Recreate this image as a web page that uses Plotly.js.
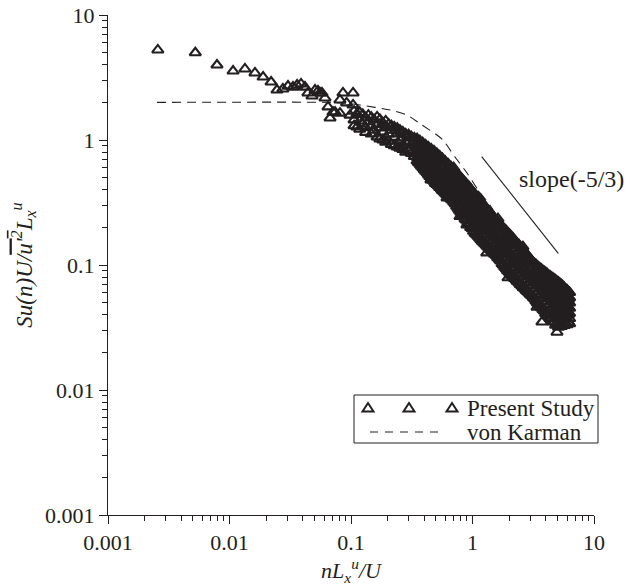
<!DOCTYPE html>
<html><head><meta charset="utf-8">
<script src="https://cdn.plot.ly/plotly-3.0.1.min.js"></script>
<style>html,body{margin:0;padding:0;background:#fff}</style>
</head><body>
<div id="chart" style="width:637px;height:586px"></div>
<script>
// Present Study: sparse low-frequency points
const lowX = [0.00257,0.00523,0.00789,0.0107,0.0134,0.0162,0.0189,0.0220,0.0246,0.0275,0.0303,0.0333,0.0360,0.0388,0.0418,0.0442,0.0478,0.0506,0.0535,0.0555,0.0577,0.0611,0.0647,0.0672,0.0711,0.0739,0.0811,0.0811,0.0859,0.0920,0.0982,0.1040,0.1040];
const lowY = [5.25,4.99,3.98,3.56,3.70,3.44,3.19,2.91,2.51,2.56,2.70,2.65,2.75,2.81,2.65,2.38,2.25,2.51,2.47,2.38,2.38,2.17,1.84,1.50,1.67,1.67,1.64,2.09,2.38,1.98,1.58,2.38,1.91];
// Present Study: band of points, x and the y values read at that x
const bandX = [0.106,0.112,0.118,0.125,0.132,0.139,0.147,0.155,0.164,0.173,0.183,0.193,0.204,0.215,0.227,0.240,0.253,0.267,0.282,0.298,0.314,0.332,
0.350,0.369,0.389,0.411,0.433,0.457,0.482,0.509,0.537,0.566,0.597,0.630,0.665,0.701,0.740,0.780,0.823,0.868,0.916,0.966,
1.02,1.08,1.14,1.20,1.26,1.33,1.41,1.48,1.57,1.65,1.75,1.84,1.94,2.05,2.16,2.28,2.41,2.54,2.68,2.83,2.98,3.15,3.32,3.50,3.70,3.90,4.11,4.34,4.58,4.83,5.10,5.38,5.68,6.00,6.30];
const bandY = [
[1.70,1.45,1.30],[1.62,1.27],[1.66,1.42,1.22],[1.60,1.35],[1.50,1.26,1.15],[1.58,1.40],[1.52,1.30,1.12],[1.45,1.20],
[1.53,1.33,1.06],[1.46,1.25,1.02],[1.37,1.16,1.00],[1.42,1.28,0.96],[1.34,1.12,0.98],[1.30,1.20,0.92],[1.27,1.05,0.90],
[1.24,1.12,0.88],[1.20,1.00,0.86],[1.16,1.04,0.84],[1.12,0.96,0.80],[1.10,0.98,0.82],[1.06,0.92,0.78],[1.04,0.90,0.74],
[1.023,0.957,0.894,0.836,0.782,0.730,0.682],[0.986,0.918,0.855,0.794,0.740,0.689,0.641],[0.951,0.881,0.817,0.757,0.702,0.650,0.603],
[0.914,0.843,0.778,0.718,0.662,0.611,0.564],[0.881,0.809,0.745,0.684,0.628,0.578,0.531],[0.847,0.776,0.710,0.649,0.594,0.543,0.498],
[0.817,0.745,0.678,0.618,0.564,0.513,0.468],[0.782,0.710,0.646,0.586,0.532,0.484,0.440],[0.745,0.676,0.614,0.557,0.506,0.459,0.417],
[0.710,0.644,0.583,0.530,0.481,0.436,0.395],[0.675,0.612,0.555,0.504,0.456,0.414,0.375],[0.643,0.582,0.527,0.478,0.434,0.393,0.356],
[0.610,0.552,0.500,0.453,0.410,0.372,0.337],[0.581,0.526,0.475,0.431,0.390,0.352,0.319],[0.547,0.494,0.447,0.403,0.364,0.328,0.296],
[0.515,0.463,0.418,0.376,0.338,0.305,0.274],[0.485,0.436,0.391,0.351,0.315,0.283,0.254],[0.456,0.408,0.365,0.327,0.292,0.261,0.234],
[0.430,0.383,0.342,0.305,0.272,0.243,0.217],[0.405,0.360,0.320,0.284,0.254,0.225,0.200],
[0.379,0.337,0.299,0.265,0.236,0.209,0.186],[0.355,0.315,0.281,0.249,0.222,0.197,0.175],[0.333,0.296,0.263,0.234,0.208,0.185,0.165],
[0.313,0.279,0.248,0.221,0.197,0.175,0.156],[0.295,0.263,0.234,0.209,0.186,0.166,0.148],[0.276,0.247,0.220,0.196,0.175,0.157,0.140],
[0.258,0.231,0.206,0.185,0.165,0.148,0.132],[0.243,0.218,0.195,0.175,0.157,0.141,0.126],[0.226,0.203,0.182,0.164,0.147,0.132,0.119],
[0.215,0.193,0.173,0.155,0.139,0.124,0.112],[0.203,0.181,0.162,0.145,0.129,0.116,0.103],[0.193,0.172,0.153,0.136,0.122,0.108,0.0966],
[0.183,0.163,0.145,0.129,0.114,0.102,0.0904],[0.173,0.153,0.136,0.121,0.107,0.0953,0.0847],[0.163,0.145,0.129,0.115,0.102,0.0906,0.0805],
[0.153,0.136,0.122,0.108,0.0962,0.0857,0.0762],[0.145,0.129,0.115,0.102,0.0910,0.0809,0.0721],[0.136,0.121,0.108,0.0964,0.0861,0.0767,0.0684],
[0.128,0.114,0.102,0.0910,0.0813,0.0726,0.0649],[0.120,0.107,0.0957,0.0857,0.0767,0.0686,0.0614],[0.112,0.101,0.0904,0.0811,0.0726,0.0652,0.0583],
[0.105,0.0944,0.0849,0.0762,0.0684,0.0615,0.0552],[0.101,0.0902,0.0807,0.0723,0.0647,0.0579,0.0519],[0.0966,0.0861,0.0769,0.0686,0.0611,0.0546,0.0486],
[0.0925,0.0822,0.0730,0.0649,0.0577,0.0512,0.0455],[0.0885,0.0783,0.0695,0.0615,0.0544,0.0483,0.0428],[0.0851,0.0750,0.0662,0.0583,0.0515,0.0454,0.0401],
[0.0818,0.0719,0.0631,0.0555,0.0486,0.0428,0.0375],[0.0789,0.0690,0.0603,0.0527,0.0461,0.0403,0.0352],[0.0760,0.0662,0.0575,0.0501,0.0437,0.0380,0.0330],
[0.0729,0.0635,0.0553,0.0481,0.0419,0.0365,0.0318],[0.0695,0.0611,0.0538,0.0473,0.0417,0.0366,0.0323],[0.0662,0.0589,0.0525,0.0467,0.0415,0.0369,0.0328],
[0.0631,0.0568,0.0511,0.0458,0.0412,0.0371,0.0333],[0.0604,0.0548,0.0498,0.0452,0.0411,0.0373,0.0339]
];
// Present Study: second pass of points read between the band columns
const midX = [0.359,0.379,0.400,0.422,0.445,0.469,0.495,0.523,0.551,0.581,0.613,0.647,0.683,0.720,0.760,0.801,0.845,0.892,0.941,0.993,
1.05,1.11,1.17,1.23,1.30,1.37,1.45,1.52,1.61,1.70,1.79,1.89,1.99,2.10,2.22,2.34,2.47,2.61,2.75,2.90,3.06,3.23,3.41,3.60,3.80,4.00,4.22,4.46,4.70,4.96,5.24,5.53,5.84,6.15];
const midY = [
[0.97,0.87,0.79,0.71,0.66],[0.93,0.84,0.75,0.68,0.62],[0.90,0.80,0.72,0.65,0.58],[0.86,0.77,0.69,0.61,0.55],[0.83,0.74,0.66,0.58,0.51],
[0.80,0.71,0.63,0.56,0.48],[0.77,0.68,0.60,0.53,0.45],[0.74,0.65,0.57,0.50,0.43],[0.71,0.62,0.54,0.47,0.41],[0.68,0.59,0.52,0.45,0.385],
[0.65,0.57,0.49,0.43,0.365],[0.62,0.54,0.47,0.41,0.345],[0.59,0.51,0.45,0.39,0.33],[0.565,0.49,0.425,0.37,0.31],[0.53,0.46,0.40,0.35,0.285],
[0.50,0.43,0.375,0.325,0.265],[0.47,0.41,0.355,0.305,0.245],[0.445,0.385,0.33,0.285,0.228],[0.42,0.36,0.31,0.265,0.21],[0.39,0.335,0.29,0.245,0.195],
[0.365,0.315,0.27,0.23,0.18],[0.345,0.295,0.255,0.215,0.17],[0.325,0.275,0.235,0.20,0.16],[0.305,0.26,0.222,0.19,0.152],[0.285,0.243,0.207,0.178,0.144],
[0.268,0.228,0.195,0.167,0.136],[0.252,0.215,0.184,0.158,0.129],[0.237,0.203,0.174,0.149,0.122],[0.222,0.19,0.164,0.141,0.115],[0.21,0.179,0.154,0.132,0.108],
[0.198,0.168,0.144,0.123,0.1],[0.188,0.158,0.135,0.115,0.094],[0.178,0.15,0.127,0.108,0.088],[0.168,0.142,0.12,0.102,0.082],[0.158,0.134,0.114,0.096,0.078],
[0.149,0.126,0.108,0.091,0.074],[0.14,0.119,0.102,0.086,0.070],[0.132,0.112,0.096,0.082,0.066],[0.124,0.106,0.091,0.077,0.063],[0.116,0.1,0.086,0.073,0.060],
[0.109,0.094,0.081,0.069,0.057],[0.103,0.089,0.077,0.065,0.054],[0.098,0.084,0.072,0.061,0.050],[0.094,0.08,0.068,0.057,0.047],[0.090,0.076,0.064,0.054,0.044],
[0.087,0.073,0.061,0.051,0.041],[0.083,0.069,0.058,0.048,0.039],[0.080,0.066,0.055,0.045,0.037],[0.077,0.063,0.052,0.043,0.035],[0.074,0.061,0.050,0.041,0.034],
[0.071,0.059,0.049,0.040,0.033],[0.068,0.057,0.048,0.040,0.0335],[0.064,0.055,0.047,0.040,0.034],[0.061,0.053,0.046,0.040,0.035]
];
// Present Study: scattered points at the band edges
const edgeX = [0.617,0.789,0.900,1.31,1.96,3.73,4.96,0.430,2.24,4.51,0.455,0.560,0.700,1.12,1.62,2.60,3.40,5.50];
const edgeY = [0.344,0.245,0.209,0.125,0.079,0.035,0.029,0.863,0.153,0.076,0.480,0.400,0.600,0.350,0.235,0.140,0.046,0.068];
// von Karman spectrum (dashed)
const karmanX = [0.00253,0.0672,0.090,0.1186,0.209,0.289,0.384,0.510,0.571,0.718,0.901,1.11,1.393,1.683,2.04];
const karmanY = [2.0,2.0,1.97,1.905,1.738,1.585,1.318,1.096,1.0,0.731,0.545,0.398,0.302,0.221,0.158];
// slope(-5/3) reference line
const slopeX = [1.19,5.08];
const slopeY = [0.735,0.124];
const tickVals = [0.001,0.01,0.1,1,10];
const tickText = ['0.001','0.01','0.1','1','10'];

const studyX = [], studyY = [];
lowX.forEach((x,i)=>{studyX.push(x);studyY.push(lowY[i]);});
bandX.forEach((x,i)=>{bandY[i].forEach(y=>{studyX.push(x);studyY.push(y);});});
midX.forEach((x,i)=>{midY[i].forEach(y=>{studyX.push(x);studyY.push(y);});});
edgeX.forEach((x,i)=>{studyX.push(x);studyY.push(edgeY[i]);});

const minorVals = [];
for (let e=-3;e<=0;e++){for(let k=2;k<=9;k++){minorVals.push(k*Math.pow(10,e));}}

const ink = '#231f20';
const serif = '"Liberation Serif","Times New Roman",serif';

const traces = [
 {x:studyX,y:studyY,mode:'markers',type:'scatter',name:'Present Study',
  marker:{symbol:'triangle-up-open',size:10,color:ink,line:{width:2.1,color:ink}}},
 {x:karmanX,y:karmanY,mode:'lines',type:'scatter',name:'von Karman',
  line:{color:ink,width:1.1,dash:'9px,6px',shape:'spline',smoothing:0.6}},
 {x:slopeX,y:slopeY,mode:'lines',type:'scatter',name:'slope',line:{color:ink,width:1.1}}
];

const axisBase = {type:'log',range:[-3,1],showline:true,linecolor:ink,linewidth:1,mirror:false,
 showgrid:false,zeroline:false,ticks:'outside',ticklen:8,tickwidth:1,tickcolor:ink,
 tickmode:'array',tickvals:tickVals,ticktext:tickText,
 tickfont:{family:serif,size:22,color:ink},
 minor:{ticks:'outside',ticklen:5,tickwidth:1,tickcolor:ink,tickmode:'array',tickvals:minorVals,showgrid:false},
 automargin:false};

const px = v => (v-108)/486;
const py = v => (515-v)/500;
const tri = (cx,cy) => 'M '+px(cx-5.5)+','+py(cy+3.5)+' L '+px(cx+5.5)+','+py(cy+3.5)+' L '+px(cx)+','+py(cy-5)+' Z';

const layout = {
 width:637,height:586,
 margin:{l:108,r:43,t:15,b:71},
 paper_bgcolor:'#fff',plot_bgcolor:'#fff',
 showlegend:false,
 font:{family:serif,size:22,color:ink},
 xaxis:Object.assign({},axisBase,{title:{text:'<i>nL<sub>x</sub><sup>u</sup>/U</i>',font:{family:serif,size:22,color:ink},standoff:7}}),
 yaxis:Object.assign({},axisBase,{title:{text:"<i>Su(n)U/<span style=\"text-decoration:overline\">u'<sup>2</sup></span>L<sub>x</sub><sup>u</sup></i>",font:{family:serif,size:23,color:ink},standoff:6}}),
 shapes:[
  {type:'rect',xref:'paper',yref:'paper',x0:px(354),x1:px(598),y0:py(443),y1:py(395),line:{color:ink,width:1},fillcolor:'rgba(0,0,0,0)'},
  {type:'line',xref:'paper',yref:'paper',x0:px(370),x1:px(445),y0:py(432),y1:py(432),line:{color:ink,width:1.1,dash:'8px,7px'}},
  {type:'path',xref:'paper',yref:'paper',path:tri(368,408),line:{color:ink,width:2},fillcolor:'rgba(0,0,0,0)'},
  {type:'path',xref:'paper',yref:'paper',path:tri(409,408),line:{color:ink,width:2},fillcolor:'rgba(0,0,0,0)'},
  {type:'path',xref:'paper',yref:'paper',path:tri(452,408),line:{color:ink,width:2},fillcolor:'rgba(0,0,0,0)'}
 ],
 annotations:[
  {xref:'paper',yref:'paper',x:px(571),y:py(179),text:'slope(-5/3)',showarrow:false,font:{family:serif,size:24,color:ink},xanchor:'center',yanchor:'middle'},
  {xref:'paper',yref:'paper',x:px(465),y:py(408),text:'Present Study',showarrow:false,font:{family:serif,size:23,color:ink},xanchor:'left',yanchor:'middle'},
  {xref:'paper',yref:'paper',x:px(465),y:py(432),text:'von Karman',showarrow:false,font:{family:serif,size:23,color:ink},xanchor:'left',yanchor:'middle'}
 ]
};

Plotly.newPlot('chart',traces,layout,{displayModeBar:false,staticPlot:true});
</script>
</body></html>
